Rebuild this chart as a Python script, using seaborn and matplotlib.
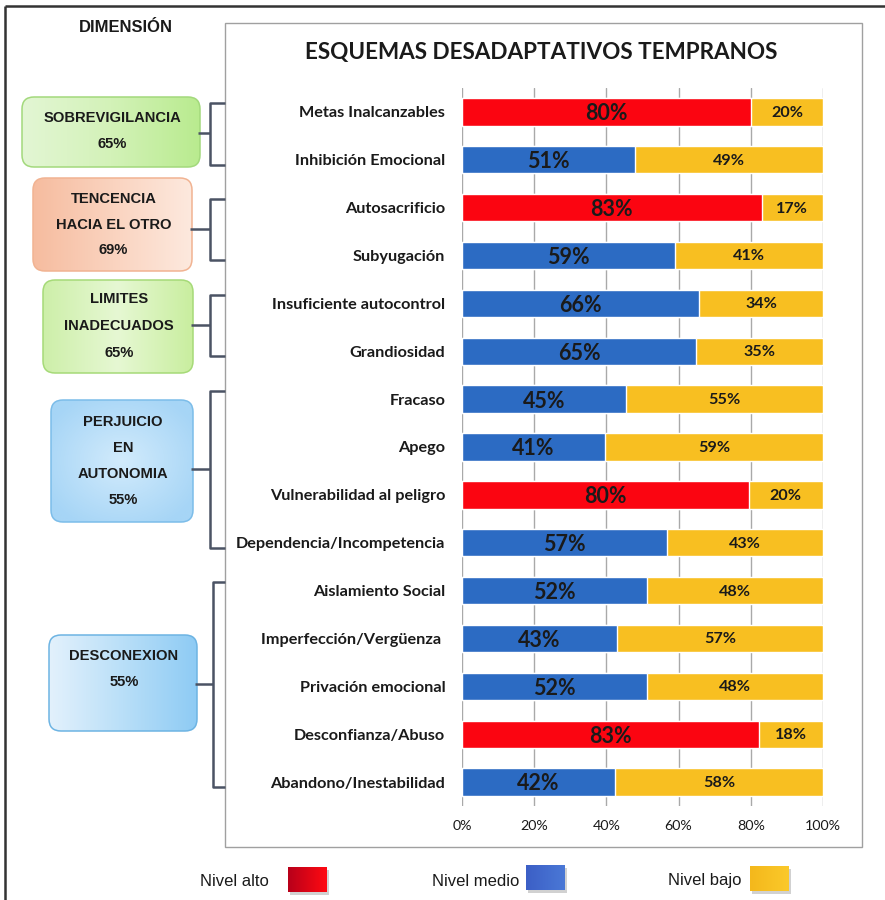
import numpy as np
import pandas as pd
import matplotlib
matplotlib.use("Agg")
import matplotlib.pyplot as plt
import seaborn as sns
from matplotlib.patches import FancyBboxPatch, Rectangle
from matplotlib.transforms import blended_transform_factory
from matplotlib.colors import to_rgb

# ---------------- data ----------------
esquemas = ["Metas Inalcanzables", "Inhibición Emocional", "Autosacrificio", "Subyugación",
            "Insuficiente autocontrol", "Grandiosidad", "Fracaso", "Apego",
            "Vulnerabilidad al peligro", "Dependencia/Incompetencia", "Aislamiento Social",
            "Imperfección/Vergüenza ", "Privación emocional", "Desconfianza/Abuso",
            "Abandono/Inestabilidad"]
nivel = ["alto", "medio", "alto", "medio", "medio", "medio", "medio", "medio",
         "alto", "medio", "medio", "medio", "medio", "alto", "medio"]
# bar lengths as drawn in the picture (share of the 100% bar)
barra_principal = [80, 48, 83, 59, 65.7, 64.8, 45.3, 39.7, 79.4, 56.7, 51.3, 43, 51.3, 82.3, 42.3]
# printed labels
etiqueta_principal = [80, 51, 83, 59, 66, 65, 45, 41, 80, 57, 52, 43, 52, 83, 42]
etiqueta_bajo = [20, 49, 17, 41, 34, 35, 55, 59, 20, 43, 48, 57, 48, 18, 58]
x_ticks = [0, 20, 40, 60, 80, 100]
x_tick_labels = ["0%", "20%", "40%", "60%", "80%", "100%"]

dimensiones = [["SOBREVIGILANCIA", "65%"],
               ["TENCENCIA", "HACIA EL OTRO", "69%"],
               ["LIMITES", "INADECUADOS", "65%"],
               ["PERJUICIO", "EN", "AUTONOMIA", "55%"],
               ["DESCONEXION", "55%"]]
dim_filas = [(0, 1), (2, 3), (4, 5), (6, 9), (10, 14)]
niveles_leyenda = ["Nivel alto", "Nivel medio", "Nivel bajo"]

titulo = "ESQUEMAS DESADAPTATIVOS TEMPRANOS"
titulo_dim = "DIMENSIÓN"

# ---------------- style ----------------
RED = "#fb0511"
BLUE = "#2c6bc3"
YEL = "#f8bf21"
TXT = "#1a1a1a"

sns.set_style("white")
plt.rcParams["font.family"] = ["Lato", "DejaVu Sans"]
ARIAL = ["Liberation Sans", "DejaVu Sans"]

W, H = 885, 900
fig = plt.figure(figsize=(W / 100, H / 100), dpi=100)

# overlay in pixel coordinates
ov = fig.add_axes([0, 0, 1, 1], zorder=0)
ov.set_xlim(0, W)
ov.set_ylim(H, 0)
ov.axis("off")
ov.patch.set_alpha(0)

# main bar axes
ax = fig.add_axes([462 / W, 1 - 806 / H, 361 / W, 718 / H], zorder=2)
ax.patch.set_alpha(0)

df = pd.DataFrame({"esquema": esquemas, "nivel": nivel,
                   "principal": barra_principal, "total": [100] * len(esquemas)})

sns.barplot(data=df, y="esquema", x="total", color=YEL, orient="h", width=0.57,
            saturation=1, errorbar=None, ax=ax)
sns.barplot(data=df, y="esquema", x="principal", hue="nivel",
            palette={"alto": RED, "medio": BLUE}, dodge=False, orient="h", width=0.57,
            saturation=1, errorbar=None, legend=False, ax=ax)

ax.set_xlim(0, 100)
ax.set_ylim(len(esquemas) - 0.5, -0.5)
ax.set_xticks(x_ticks)
ax.set_xticklabels(x_tick_labels, fontsize=10.3, color=TXT)
ax.set_xlabel("")
ax.set_ylabel("")
ax.grid(axis="x", color="#a9a9a9", lw=1)
ax.grid(axis="y", visible=False)
ax.set_axisbelow(True)
for s in ax.spines.values():
    s.set_visible(False)
ax.tick_params(axis="both", length=0)
ax.tick_params(axis="x", pad=10)
ax.tick_params(axis="y", pad=12)
for lab in ax.get_yticklabels():
    lab.set_fontweight("bold")
    lab.set_fontsize(11.7)
    lab.set_color(TXT)

for i in range(len(esquemas)):
    ax.text(barra_principal[i] / 2, i + 0.04, f"{etiqueta_principal[i]}%", ha="center",
            va="center", fontsize=15.5, fontweight="bold", color=TXT)
    ax.text((barra_principal[i] + 100) / 2, i + 0.02, f"{etiqueta_bajo[i]}%", ha="center",
            va="center", fontsize=11.6, fontweight="bold", color=TXT)

# ---------------- frames ----------------
ov.plot([5, W], [6, 6], color="#333333", lw=1.8, solid_capstyle="butt")
ov.plot([5, 5], [6, H], color="#333333", lw=1.8, solid_capstyle="butt")
ov.add_patch(Rectangle((225, 23), 637, 824, fill=False, ec="#a0a0a0", lw=1))

fig.text(541 / W, 1 - 52 / H, titulo, ha="center", va="center", fontsize=16.2,
         fontweight="bold", color=TXT)
fig.text(126 / W, 1 - 27 / H, titulo_dim, ha="center", va="center", fontsize=11.9,
         fontweight="bold", color=TXT, family=ARIAL)


def gradient_box(x0, y0, x1, y1, cols, ec, r=12, radial=False):
    patch = FancyBboxPatch((x0 + r, y0 + r), (x1 - x0) - 2 * r, (y1 - y0) - 2 * r,
                           boxstyle=f"round,pad={r}", fc="none", ec=ec, lw=1.1, zorder=3)
    ov.add_patch(patch)
    n = 200
    if radial:
        xx, yy = np.meshgrid(np.linspace(-1, 1, n), np.linspace(-1, 1, n))
        t = np.clip(np.sqrt(xx ** 2 + yy ** 2) / 1.2, 0, 1)
    else:
        t = np.tile(np.linspace(0, 1, n), (n, 1))
    c = [np.array(to_rgb(k)) for k in cols]
    if len(c) == 2:
        img = c[0][None, None, :] * (1 - t[..., None]) + c[1][None, None, :] * t[..., None]
    else:
        a = np.clip(t * 2, 0, 1)[..., None]
        b = np.clip(t * 2 - 1, 0, 1)[..., None]
        img = np.where(t[..., None] < 0.5, c[0] * (1 - a) + c[1] * a, c[1] * (1 - b) + c[2] * b)
    im = ov.imshow(img, extent=(x0, x1, y1, y0), aspect="auto", zorder=2,
                   interpolation="bilinear")
    im.set_clip_path(patch)


box_px = [(22, 97, 200, 167), (33, 178, 192, 271), (43, 280, 193, 373),
          (51, 400, 193, 522), (49, 635, 197, 731)]
box_cols = [(["#e3f6d4", "#d3f2b8", "#b9eb8f"], "#a3d97c", False),
            (["#f6bc9f", "#fad3bf", "#fde9de"], "#f1b392", False),
            (["#cdefa9", "#e6f8d3", "#c9ee9f"], "#a6da78", False),
            (["#d2ebfc", "#a6d5f6"], "#7cbde9", True),
            (["#e3f1fc", "#b9dff8", "#8ecbf4"], "#6db4e3", False)]
text_y = [[117, 143], [198, 224, 249], [298, 325, 352], [421, 447, 473, 499], [655, 681]]

for (x0, y0, x1, y1), (cols, ec, rad), lines, ys in zip(box_px, box_cols, dimensiones, text_y):
    gradient_box(x0, y0, x1, y1, cols, ec, radial=rad)
    for line, yy in zip(lines, ys):
        ov.text((x0 + x1) / 2 + 1, yy + 1, line, ha="center", va="center", fontsize=10.6,
                fontweight="bold", color=TXT, family=ARIAL, zorder=4)

# brackets: x in pixels, y tied to bar rows
tr = blended_transform_factory(ov.transData, ax.transData)
bracket_x = [210, 210, 210, 210, 213]
for (a, b), (x0, y0, x1, y1), bx in zip(dim_filas, box_px, bracket_x):
    top, bot = a - 0.18, b + 0.1
    mid = (a + b) / 2 - 0.05
    kw = dict(color="#4b5364", lw=1.8, transform=tr, solid_capstyle="butt", zorder=3)
    ov.plot([225, bx, bx, 225], [top, top, bot, bot], **kw)
    ov.plot([x1 - 2, bx], [mid, mid], **kw)

# ---------------- legend ----------------
leg_txt_x = [200, 432, 668]
sw_px = [(288, 867, 327, 892), (526, 865, 565, 890), (750, 866, 789, 891)]
sw_cols = [("#b8001a", "#ff0a12"), ("#3c5fc6", "#4a78d6"), ("#f4b81c", "#fbc92a")]
for name, tx, (x0, y0, x1, y1), (c0, c1) in zip(niveles_leyenda, leg_txt_x, sw_px, sw_cols):
    ov.text(tx, 881, name, ha="left", va="center", fontsize=12,
            color=TXT, family=ARIAL)
    ov.add_patch(Rectangle((x0 + 1.5, y0 + 2.5), x1 - x0, y1 - y0, fc="#000000",
                           alpha=0.18, lw=0, zorder=2))
    t = np.tile(np.linspace(0, 1, 60), (30, 1))[..., None]
    img = np.array(to_rgb(c0)) * (1 - t) + np.array(to_rgb(c1)) * t
    ov.imshow(img, extent=(x0, x1, y1, y0), aspect="auto", zorder=3)

ov.set_xlim(0, W)
ov.set_ylim(H, 0)

fig.savefig("out.png", dpi=100)
